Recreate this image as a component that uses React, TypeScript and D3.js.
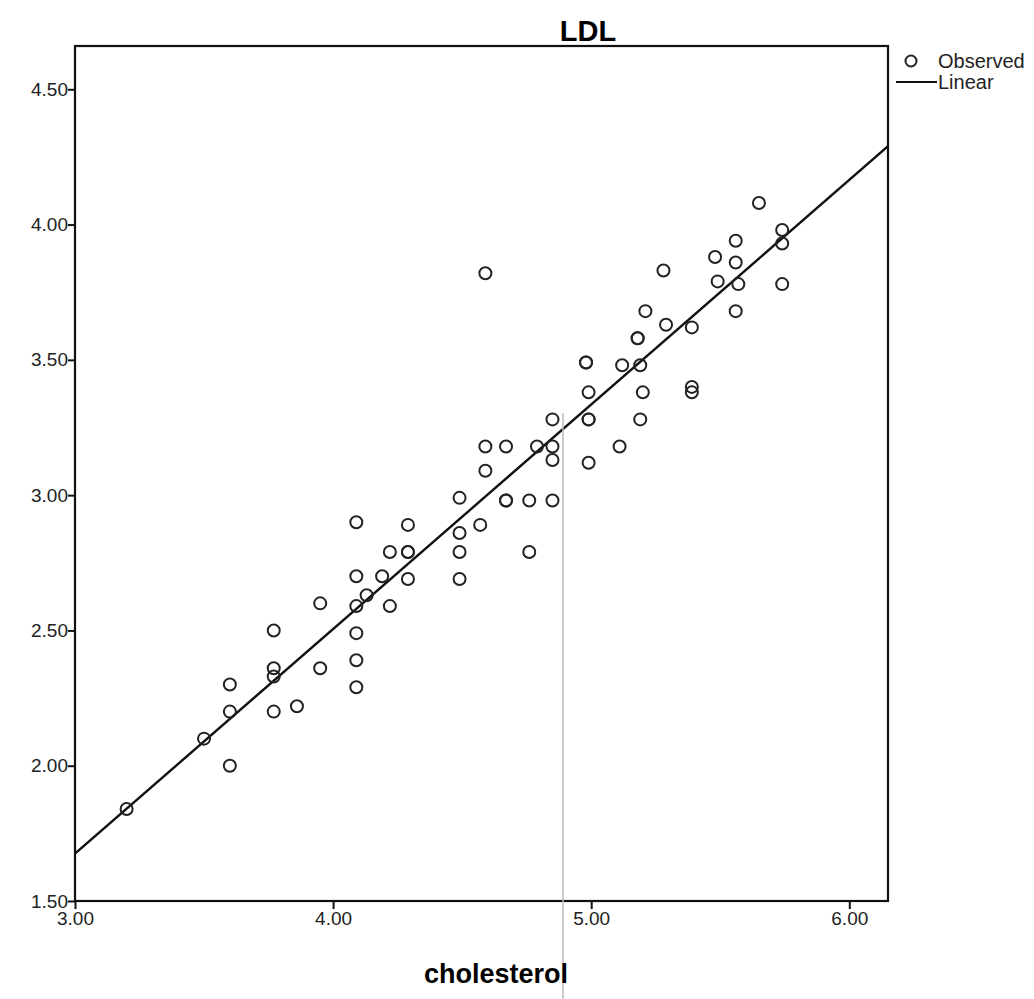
import { useEffect, useRef } from 'react'
import * as d3 from 'd3'

// observed points (cholesterol, LDL)
const cholesterol = [
  3.2, 3.5, 3.6, 3.6, 3.6, 3.77, 3.77, 3.77, 3.77, 3.86, 3.95, 3.95,
  4.09, 4.09, 4.09, 4.09, 4.09, 4.09, 4.13, 4.19, 4.22, 4.22, 4.29, 4.29, 4.29, 4.29,
  4.49, 4.49, 4.49, 4.49, 4.57, 4.59, 4.59, 4.67, 4.67, 4.67, 4.76, 4.76, 4.79,
  4.85, 4.85, 4.85, 4.85, 4.99, 4.99, 4.99, 5.11, 4.99, 5.2, 5.19, 4.98, 4.98,
  5.12, 5.19, 5.18, 5.18, 5.21, 5.39, 5.39, 5.29, 5.39, 4.59, 5.28, 5.48, 5.56,
  5.56, 5.49, 5.57, 5.56, 5.65, 5.74, 5.74, 5.74,
]
const ldl = [
  1.84, 2.1, 2.3, 2.2, 2.0, 2.5, 2.36, 2.33, 2.2, 2.22, 2.6, 2.36,
  2.9, 2.7, 2.59, 2.49, 2.39, 2.29, 2.63, 2.7, 2.79, 2.59, 2.89, 2.79, 2.79, 2.69,
  2.99, 2.86, 2.79, 2.69, 2.89, 3.09, 3.18, 2.98, 2.98, 3.18, 2.98, 2.79, 3.18,
  2.98, 3.18, 3.13, 3.28, 3.12, 3.28, 3.28, 3.18, 3.38, 3.38, 3.28, 3.49, 3.49,
  3.48, 3.48, 3.58, 3.58, 3.68, 3.4, 3.38, 3.63, 3.62, 3.82, 3.83, 3.88, 3.86,
  3.94, 3.79, 3.78, 3.68, 4.08, 3.98, 3.93, 3.78,
]

const xTicks = [3, 4, 5, 6]
const yTicks = [1.5, 2, 2.5, 3, 3.5, 4, 4.5]

// linear fit
const fitIntercept = -0.815
const fitSlope = 0.83

const font = '"Liberation Sans", Arial, sans-serif'

const ScatterFit = () => {
  const ref = useRef<SVGSVGElement | null>(null)

  useEffect(() => {
    const svg = d3.select(ref.current)
    svg.selectAll('*').remove()

    const margin = { top: 46, right: 146, bottom: 98, left: 75 }
    const W = 1034
    const H = 999
    const width = W - margin.left - margin.right
    const height = H - margin.top - margin.bottom

    const x = d3.scaleLinear().domain([3, 6.15]).range([0, width])
    const y = d3.scaleLinear().domain([1.5, 4.66]).range([height, 0])

    const g = svg.append('g').attr('transform', `translate(${margin.left},${margin.top})`)

    // title
    svg
      .append('text')
      .attr('x', 588)
      .attr('y', 41)
      .attr('text-anchor', 'middle')
      .attr('font-family', font)
      .attr('font-weight', 'bold')
      .attr('font-size', 29)
      .text('LDL')

    // scan fold line
    svg
      .append('line')
      .attr('x1', 563)
      .attr('x2', 563)
      .attr('y1', 413)
      .attr('y2', H)
      .attr('stroke', '#bbb')
      .attr('stroke-width', 1.5)

    g.append('clipPath')
      .attr('id', 'plot-clip')
      .append('rect')
      .attr('width', width)
      .attr('height', height)

    // fit line
    const lineGen = d3
      .line<number>()
      .x((d) => x(d))
      .y((d) => y(fitIntercept + fitSlope * d))
    g.append('path')
      .datum(x.domain())
      .attr('clip-path', 'url(#plot-clip)')
      .attr('fill', 'none')
      .attr('stroke', '#111')
      .attr('stroke-width', 2.4)
      .attr('d', lineGen)

    // observed points
    g.selectAll('.pt')
      .data(cholesterol)
      .enter()
      .append('circle')
      .attr('class', 'pt')
      .attr('cx', (d) => x(d))
      .attr('cy', (_, i) => y(ldl[i]))
      .attr('r', 6)
      .attr('fill', 'none')
      .attr('stroke', '#222')
      .attr('stroke-width', 2)

    // frame
    g.append('rect')
      .attr('width', width)
      .attr('height', height)
      .attr('fill', 'none')
      .attr('stroke', '#111')
      .attr('stroke-width', 2.2)

    // axes
    const xAxis = g
      .append('g')
      .attr('transform', `translate(0,${height})`)
      .call(d3.axisBottom(x).tickValues(xTicks).tickFormat(d3.format('.2f')).tickSize(8).tickSizeOuter(0))
    const yAxis = g
      .append('g')
      .call(d3.axisLeft(y).tickValues(yTicks).tickFormat(d3.format('.2f')).tickSize(7).tickSizeOuter(0))

    ;[xAxis, yAxis].forEach((ax) => {
      ax.select('.domain').remove()
      ax.selectAll('line').attr('stroke', '#111').attr('stroke-width', 2)
      ax.selectAll('text')
        .attr('font-family', font)
        .attr('font-size', 19)
        .attr('fill', '#222')
    })
    xAxis.selectAll('text').attr('y', 7).attr('dy', '0.9em')
    yAxis.selectAll('text').attr('x', -7)

    // x axis label
    svg
      .append('text')
      .attr('x', 496)
      .attr('y', 983)
      .attr('text-anchor', 'middle')
      .attr('font-family', font)
      .attr('font-weight', 'bold')
      .attr('font-size', 27)
      .text('cholesterol')

    // legend
    const lg = svg.append('g').attr('transform', 'translate(0,61)')
    lg.append('circle')
      .attr('cx', 911)
      .attr('cy', 0)
      .attr('r', 5.5)
      .attr('fill', 'none')
      .attr('stroke', '#222')
      .attr('stroke-width', 2)
    lg.append('text')
      .attr('x', 938)
      .attr('y', 7)
      .attr('font-family', font)
      .attr('font-size', 20)
      .attr('fill', '#222')
      .text('Observed')
    lg.append('line')
      .attr('x1', 896)
      .attr('x2', 937)
      .attr('y1', 21)
      .attr('y2', 21)
      .attr('stroke', '#111')
      .attr('stroke-width', 2)
    lg.append('text')
      .attr('x', 938)
      .attr('y', 28)
      .attr('font-family', font)
      .attr('font-size', 20)
      .attr('fill', '#222')
      .text('Linear')
  }, [])

  return <svg ref={ref} width={1034} height={999} style={{ position: 'absolute', left: 0, top: 0, background: '#fff' }} />
}

export default function App() {
  return <ScatterFit />
}
